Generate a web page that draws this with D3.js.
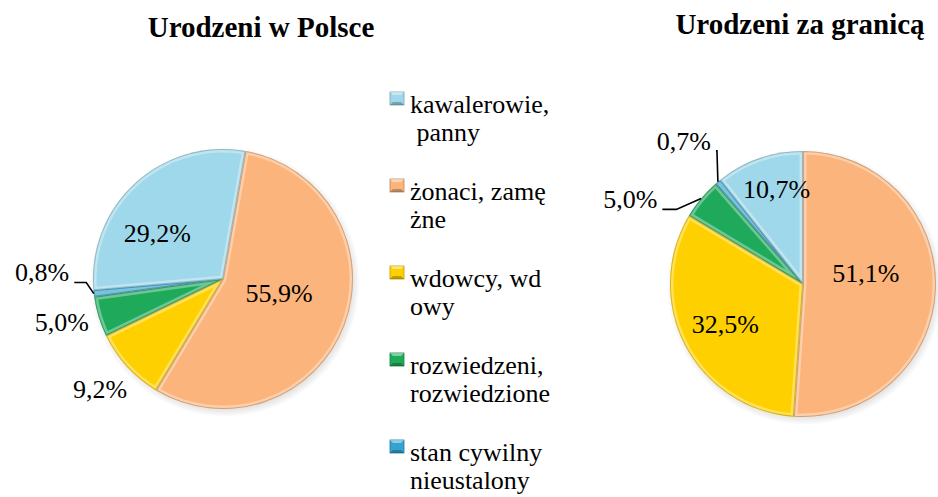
<!DOCTYPE html>
<html>
<head>
<meta charset="utf-8">
<script src="https://cdn.jsdelivr.net/npm/d3@7"></script>
<style>
html, body { margin: 0; padding: 0; background: #fff; }
svg { display: block; }
</style>
</head>
<body>
<svg id="chart" width="938" height="497"></svg>
<script>
"use strict";

var categories = ["kawalerowie, panny", "żonaci, zamężne", "wdowcy, wdowy",
    "rozwiedzeni, rozwiedzione", "stan cywilny nieustalony"];
// legend text wraps exactly like the original
var legendLines = [["kawalerowie,", " panny"], ["żonaci, zamę", "żne"], ["wdowcy, wd", "owy"],
    ["rozwiedzeni,", "rozwiedzione"], ["stan cywilny", "nieustalony"]];
var titles = ["Urodzeni w Polsce", "Urodzeni za granicą"];
var bornPoland = [29.2, 55.9, 9.2, 5.0, 0.8];
var bornAbroad = [10.7, 51.1, 32.5, 5.0, 0.7];

var colors = ["#9fd8ea", "#fbb47b", "#ffd000", "#1faa5b", "#34a3cf"];
var FONT = "Liberation Serif";

var pies = [
    {
        id: 'pl', title: titles[0], values: bornPoland,
        cx: 223, cy: 279, r: 130, orangeStart: 10,
        titleX: 261, titleY: 37,
        labelR: [0.6, 0.6, 1.27, 1.28, 1.4],
        nudge: [[-13, 12], [-17, -13], [-1, -1], [-2, -5], [0, -27]],
        elbow: [null, null, null, null, 12]
    },
    {
        id: 'ab', title: titles[1], values: bornAbroad,
        cx: 803, cy: 284, r: 133, orangeStart: 0,
        titleX: 800, titleY: 34,
        labelR: [0.6, 0.6, 0.6, 1.4, 1.4],
        nudge: [[0, -20], [-17, -14], [-7, 3], [-30, 35], [0, 0]],
        elbow: [null, null, null, 14, 1]
    }
];

var svg = d3.select('#chart');
var defs = svg.append('defs');

var shade = defs.append('radialGradient').attr('id', 'shade');
shade.append('stop').attr('offset', '0.9').attr('stop-color', '#000').attr('stop-opacity', 0.18);
shade.append('stop').attr('offset', '1').attr('stop-color', '#000').attr('stop-opacity', 0);

var color = d3.scaleOrdinal().domain(categories).range(colors);
var rad = Math.PI / 180;
var pct = function (v) { return d3.format('.1f')(v).replace('.', ',') + '%'; };

function addText(x, y, str, size, bold, anchor) {
    return svg.append('text')
        .attr('x', x)
        .attr('y', y)
        .attr('font-family', FONT)
        .style('font-family', '"Liberation Serif", "Times New Roman", serif')
        .attr('font-size', size)
        .attr('font-weight', bold ? 'bold' : 'normal')
        .attr('text-anchor', anchor || 'start')
        .attr('fill', '#000')
        .text(str);
}

pies.forEach(function (p) {
    var total = d3.sum(p.values);
    var start = p.orangeStart * rad - p.values[0] / total * 2 * Math.PI;

    var arcs = d3.pie()
        .sort(null)
        .startAngle(start)
        .endAngle(start + 2 * Math.PI)
        (p.values);

    var arc = d3.arc().innerRadius(0).outerRadius(p.r);

    var g = svg.append('g')
        .attr('transform', 'translate(' + p.cx + ',' + p.cy + ')');

    // soft shadow under the pie
    g.append('circle')
        .attr('cx', 2).attr('cy', 3)
        .attr('r', p.r + 5)
        .attr('fill', 'url(#shade)');

    defs.selectAll('.clip-' + p.id)
        .data(arcs)
        .enter().append('clipPath')
            .attr('class', 'clip-' + p.id)
            .attr('id', function (d, i) { return 'clip-' + p.id + i; })
        .append('path')
            .attr('d', arc);

    g.selectAll('.slice')
        .data(arcs)
        .enter().append('path')
            .attr('class', 'slice')
            .attr('d', arc)
            .attr('fill', function (d, i) { return color(categories[i]); });

    // bevel: light inner rim and a darker edge on every slice
    g.selectAll('.rim')
        .data(arcs)
        .enter().append('path')
            .attr('class', 'rim')
            .attr('d', arc)
            .attr('clip-path', function (d, i) { return 'url(#clip-' + p.id + i + ')'; })
            .attr('fill', 'none')
            .attr('stroke', '#fff')
            .attr('stroke-opacity', 0.35)
            .attr('stroke-width', 7);
    g.selectAll('.edge')
        .data(arcs)
        .enter().append('path')
            .attr('class', 'edge')
            .attr('d', arc)
            .attr('clip-path', function (d, i) { return 'url(#clip-' + p.id + i + ')'; })
            .attr('fill', 'none')
            .attr('stroke', function (d, i) { return d3.color(color(categories[i])).darker(0.9); })
            .attr('stroke-opacity', 0.6)
            .attr('stroke-width', 2);

    // data labels, with leader lines for the small outside ones
    arcs.forEach(function (d, i) {
        var m = (d.startAngle + d.endAngle) / 2;
        var x = p.cx + Math.sin(m) * p.r * p.labelR[i] + p.nudge[i][0];
        var y = p.cy - Math.cos(m) * p.r * p.labelR[i] + p.nudge[i][1];
        var t = addText(x, y + 9, pct(d.value), 26, false, 'middle');

        if (p.elbow[i] === null) return;
        var half = t.node().getComputedTextLength() / 2;
        var x2 = x + half + 5;
        var y2 = y + 10;
        var pts = [
            [p.cx + Math.sin(m) * p.r, p.cy - Math.cos(m) * p.r],
            [x2 + p.elbow[i], y2],
            [x2, y2]
        ];
        svg.append('path')
            .attr('d', d3.line()(pts))
            .attr('fill', 'none')
            .attr('stroke', '#000')
            .attr('stroke-width', 1.6);
    });

    addText(p.titleX, p.titleY, p.title, 29, true, 'middle');
});

// legend
var legend = svg.append('g').attr('transform', 'translate(390,113)');
var item = legend.selectAll('.item')
    .data(categories)
    .enter().append('g')
        .attr('class', 'item')
        .attr('transform', function (d, i) { return 'translate(0,' + (i * 87) + ')'; });

item.append('rect')
    .attr('x', 0).attr('y', -21)
    .attr('width', 14).attr('height', 13)
    .attr('fill', function (d) { return color(d); })
    .attr('stroke', function (d) { return d3.color(color(d)).darker(0.8); })
    .attr('stroke-width', 0.8);
// bevel facets on the legend keys
item.append('path')
    .attr('d', 'M0,-21L14,-21L11,-18L3,-18Z')
    .attr('fill', 'rgba(255,255,255,0.45)');
item.append('path')
    .attr('d', 'M0,-8L14,-8L11,-11L3,-11Z')
    .attr('fill', 'rgba(0,0,0,0.25)');

legendLines.forEach(function (lines, i) {
    lines.forEach(function (line, j) {
        addText(410, 113 + i * 87 + j * 28, line, 26, false, 'start')
            .style('white-space', 'pre');
    });
});
</script>
</body>
</html>
